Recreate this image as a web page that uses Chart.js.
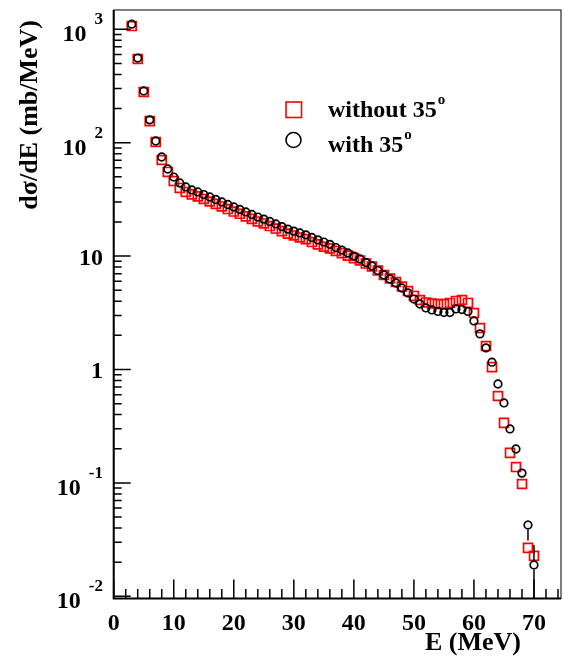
<!DOCTYPE html>
<html>
<head>
<meta charset="utf-8">
<script src="https://cdn.jsdelivr.net/npm/chart.js@4"></script>
<style>
  body { margin: 0; background: #fff; }
  canvas { display: block; }
</style>
</head>
<body>
<canvas id="myChart" width="564" height="657"></canvas>
<script>
// energy bins (MeV)
const energy = [3, 4, 5, 6, 7, 8, 9, 10, 11, 12, 13, 14, 15, 16, 17, 18, 19, 20,
  21, 22, 23, 24, 25, 26, 27, 28, 29, 30, 31, 32, 33, 34, 35, 36, 37, 38, 39, 40,
  41, 42, 43, 44, 45, 46, 47, 48, 49, 50, 51, 52, 53, 54, 55, 56, 57, 58, 59, 60,
  61, 62, 63, 64, 65, 66, 67, 68, 69, 70];

// with 35 deg (circles)
const withAngle = [1110, 558, 286, 159, 103.5, 74.8, 58.6, 49.8, 44.1, 40.7, 38.3, 36.8,
  34.9, 33.2, 31.6, 30.0, 28.5, 27.1, 25.8, 24.5, 23.3, 22.1, 21.2, 20.2, 19.2, 18.2,
  17.3, 16.6, 16.0, 15.4, 14.6, 13.9, 13.3, 12.7, 11.9, 11.3, 10.65, 10.0, 9.43, 8.78,
  8.18, 7.46, 6.81, 6.28, 5.79, 5.23, 4.73, 4.18, 3.78, 3.49, 3.35, 3.25, 3.18, 3.18,
  3.42, 3.38, 3.25, 2.68, 2.06, 1.55, 1.16, 0.745, 0.507, 0.299, 0.199, 0.122, 0.0425, 0.0189];

// without 35 deg (squares)
const withoutAngle = [1069, 547, 280, 155, 101.4, 70.4, 55.2, 45.9, 39.9, 36.8, 35.0, 33.6,
  31.9, 30.3, 28.9, 27.4, 26.0, 24.7, 23.6, 22.4, 21.3, 20.2, 19.4, 18.4, 17.5, 16.6,
  15.8, 15.2, 14.6, 14.1, 13.3, 12.7, 12.1, 11.7, 11.1, 10.6, 10.1, 9.6, 9.15, 8.6,
  8.1, 7.46, 6.81, 6.34, 5.91, 5.39, 4.92, 4.45, 4.10, 3.90, 3.82, 3.78, 3.78, 3.86,
  4.02, 4.10, 3.86, 3.15, 2.32, 1.61, 1.05, 0.584, 0.338, 0.184, 0.138, 0.0978, 0.0267, 0.0227];

// error bars visible on the last circles
const errE = [69, 70];
const errLow = [0.031, 0.004];
const errHigh = [0.046, 0.0283];

const xTicks = [0, 10, 20, 30, 40, 50, 60, 70];
const yTicks = [0.01, 0.1, 1, 10, 100, 1000];
const yTickBase = ['10', '10', '1', '10', '10', '10'];
const yTickExp = ['-2', '-1', '', '', '2', '3'];

const legendNames = ['without 35', 'with 35'];

const FONT = '"Liberation Serif", "Times New Roman", serif';

const toPts = (ys) => energy.map((e, i) => ({ x: e, y: ys[i] }));

const overlay = {
  id: 'overlay',
  afterDatasetsDraw(chart) {
    const ctx = chart.ctx, x = chart.scales.x, y = chart.scales.y, a = chart.chartArea;
    ctx.save();
    ctx.beginPath();
    ctx.rect(a.left, a.top, a.right - a.left, a.bottom - a.top);
    ctx.clip();
    ctx.strokeStyle = '#000';
    ctx.lineWidth = 1.5;
    errE.forEach((e, i) => {
      const px = x.getPixelForValue(e);
      const pv = y.getPixelForValue(withAngle[energy.indexOf(e)]);
      ctx.beginPath();
      ctx.moveTo(px, y.getPixelForValue(errHigh[i]));
      ctx.lineTo(px, pv - 4.6);
      ctx.moveTo(px, pv + 4.6);
      ctx.lineTo(px, y.getPixelForValue(errLow[i]));
      ctx.stroke();
    });
    ctx.restore();
  },
  afterDraw(chart) {
    const ctx = chart.ctx, x = chart.scales.x, y = chart.scales.y, a = chart.chartArea;
    ctx.save();
    ctx.strokeStyle = '#000';
    ctx.fillStyle = '#000';

    // frame
    ctx.lineWidth = 1;
    ctx.strokeRect(a.left, a.top, a.right - a.left, a.bottom - a.top);
    ctx.lineWidth = 2;
    ctx.beginPath();
    ctx.moveTo(a.left, a.top);
    ctx.lineTo(a.left, a.bottom);
    ctx.lineTo(a.right, a.bottom);
    ctx.stroke();

    // x ticks
    ctx.lineWidth = 1.5;
    ctx.beginPath();
    for (let v = 0; v <= 74; v += 2) {
      const px = x.getPixelForValue(v);
      const len = v % 10 === 0 ? 19 : 9.5;
      ctx.moveTo(px, a.bottom);
      ctx.lineTo(px, a.bottom - len);
    }
    // y ticks
    for (let k = -3; k <= 3; k++) {
      for (let m = 1; m <= 9; m++) {
        const v = m * Math.pow(10, k);
        if (v < y.min || v > y.max) continue;
        const py = y.getPixelForValue(v);
        ctx.moveTo(a.left, py);
        ctx.lineTo(a.left + (m === 1 ? 17 : 8), py);
      }
    }
    ctx.stroke();

    // x labels
    ctx.font = 'bold 24px ' + FONT;
    ctx.textAlign = 'center';
    ctx.textBaseline = 'alphabetic';
    xTicks.forEach(v => ctx.fillText(String(v), x.getPixelForValue(v), 630));

    // y labels
    yTicks.forEach((v, i) => {
      const py = y.getPixelForValue(v);
      if (yTickExp[i]) {
        ctx.font = 'bold 17px ' + FONT;
        ctx.textAlign = 'right';
        ctx.fillText(yTickExp[i], 103, py - 5);
        const w = ctx.measureText(yTickExp[i]).width;
        ctx.font = 'bold 24px ' + FONT;
        ctx.fillText(yTickBase[i], 103 - w - 8, py + 12);
      } else {
        ctx.font = 'bold 24px ' + FONT;
        ctx.textAlign = 'right';
        ctx.fillText(yTickBase[i], 103, py + 9);
      }
    });

    // axis titles
    ctx.font = 'bold 26px ' + FONT;
    ctx.textAlign = 'right';
    ctx.fillText('E (MeV)', 521, 650);
    ctx.save();
    ctx.translate(30, 20);
    ctx.rotate(-Math.PI / 2);
    ctx.textBaseline = 'middle';
    ctx.fillText('d\u03c3/dE (mb/MeV)', 0, 0);
    ctx.restore();

    // legend
    ctx.lineWidth = 1.6;
    ctx.strokeStyle = '#ff0000';
    ctx.strokeRect(286, 102, 15.5, 15.5);
    ctx.strokeStyle = '#000';
    ctx.beginPath();
    ctx.arc(293.5, 140, 7.5, 0, Math.PI * 2);
    ctx.stroke();
    ctx.textAlign = 'left';
    ctx.textBaseline = 'alphabetic';
    [117, 152].forEach((base, i) => {
      ctx.font = 'bold 24px ' + FONT;
      ctx.fillText(legendNames[i], 328, base);
      const w = ctx.measureText(legendNames[i]).width;
      ctx.font = 'bold 15px ' + FONT;
      ctx.fillText('o', 328 + w + 1, base - 13);
    });
    ctx.restore();
  }
};

const data = {
  datasets: [
    {
      label: 'with 35',
      data: toPts(withAngle),
      pointStyle: 'circle',
      pointRadius: 3.8,
      borderColor: '#000',
      backgroundColor: 'rgba(0,0,0,0)',
      borderWidth: 1.7,
      showLine: false
    },
    {
      label: 'without 35',
      data: toPts(withoutAngle),
      pointStyle: 'rect',
      pointRadius: 6.3,
      borderColor: '#ff0000',
      backgroundColor: 'rgba(0,0,0,0)',
      borderWidth: 1.7,
      showLine: false
    }
  ]
};

const config = {
  type: 'scatter',
  data: data,
  options: {
    responsive: false,
    animation: false,
    devicePixelRatio: 1,
    layout: { autoPadding: false, padding: { left: 113.7, right: 3, top: 10, bottom: 58.5 } },
    plugins: { legend: { display: false }, tooltip: { enabled: false } },
    scales: {
      x: { type: 'linear', min: 0, max: 74.5, display: false },
      y: { type: 'logarithmic', min: 0.00956, max: 1480, display: false }
    }
  },
  plugins: [overlay]
};

const myChart = new Chart(document.getElementById('myChart'), config);
</script>
</body>
</html>
